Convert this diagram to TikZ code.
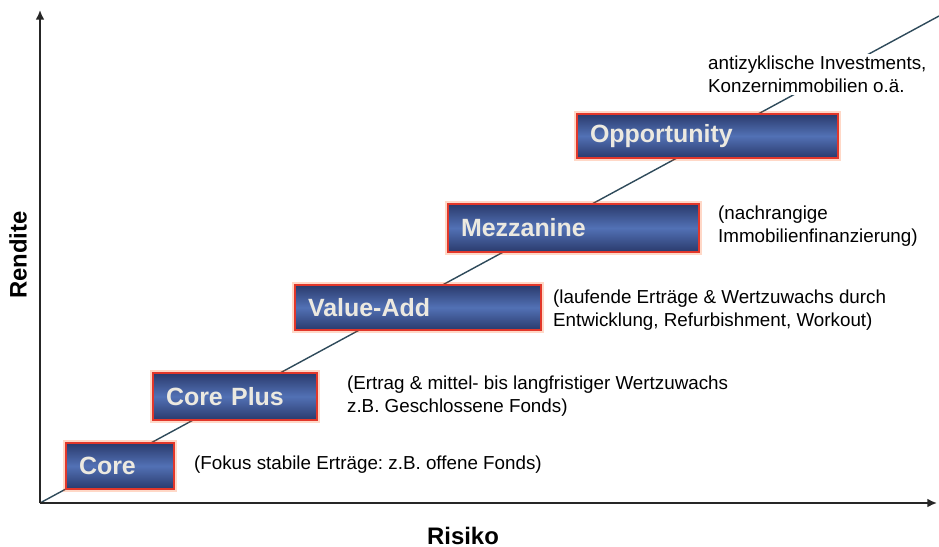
\documentclass[tikz,border=0pt]{standalone}
\usepackage{fontspec}
\setmainfont{Liberation Sans}
\usetikzlibrary{arrows.meta}
\definecolor{boxdark}{HTML}{2A3A6C}
\definecolor{boxmid}{HTML}{5271B5}
\definecolor{boxred}{HTML}{E2372A}
\definecolor{boxtext}{HTML}{ECE9E0}
\definecolor{trendline}{HTML}{2E4A5A}
\frenchspacing

\begin{document}
\begin{tikzpicture}[x=0.02cm, y=-0.02cm, >={Latex[length=5.5pt,width=5pt]},
    every node/.style={font=\fontsize{10.7}{13}\selectfont},
    stratbox/.style={draw=boxred, line width=1.3pt,
        top color=boxdark, bottom color=boxdark, middle color=boxmid,
        preaction={draw=orange!60!red, line width=3.6pt, opacity=0.22},
        text=boxtext, font=\fontsize{14.2}{16}\selectfont\bfseries,
        inner xsep=0.26cm, align=left, text width=#1, minimum height=0.92cm},
    desc/.style={anchor=west, align=left, inner sep=1pt, fill=white}]
    \useasboundingbox (0,0) rectangle (939,547);

    % axes
    \coordinate (O) at (40,503);
    \coordinate (ytop) at (40,10);
    \coordinate (xend) at (937,503);
    \coordinate (trend) at (939,16);
    \draw[trendline, line width=0.8pt] (O) -- (trend);
    \draw[->, line width=1pt, black!85] (O) -- (ytop);
    \draw[->, line width=1pt, black!85] (O) -- (xend);

    \node[font=\fontsize{13.6}{16}\selectfont\bfseries, rotate=90] (rendite) at (18,255) {Rendite};
    \node[font=\fontsize{13.6}{16}\selectfont\bfseries] (risiko) at (463,536) {Risiko};

    % strategies
    \node[stratbox=1.64cm, minimum height=0.92cm] (core) at (120,466) {Core};
    \node[stratbox=2.76cm, minimum height=0.94cm] (coreplus) at (235,396.5) {Core Plus};
    \node[stratbox=4.40cm, minimum height=0.90cm] (valueadd) at (418,307.5) {Value-Add};
    \node[stratbox=4.50cm, minimum height=0.96cm] (mezzanine) at (573.5,228) {Mezzanine};
    \node[stratbox=4.70cm, minimum height=0.88cm] (opportunity) at (707.5,136) {Opportunity};

    % descriptions
    \node[desc] (coretxt) at (192,465) {(Fokus stabile Erträge: z.B. offene Fonds)};
    \node[desc] (coreplustxt) at (345,396) {(Ertrag \& mittel- bis langfristiger Wertzuwachs\\z.B. Geschlossene Fonds)};
    \node[desc] (valueaddtxt) at (551,310) {(laufende Erträge \& Wertzuwachs durch\\Entwicklung, Refurbishment, Workout)};
    \node[desc] (mezzaninetxt) at (716,226) {(nachrangige\\Immobilienfinanzierung)};
    \node[desc] (opportunitytxt) at (706,74.5) {antizyklische Investments,\\Konzernimmobilien o.ä.};
\end{tikzpicture}
\end{document}
